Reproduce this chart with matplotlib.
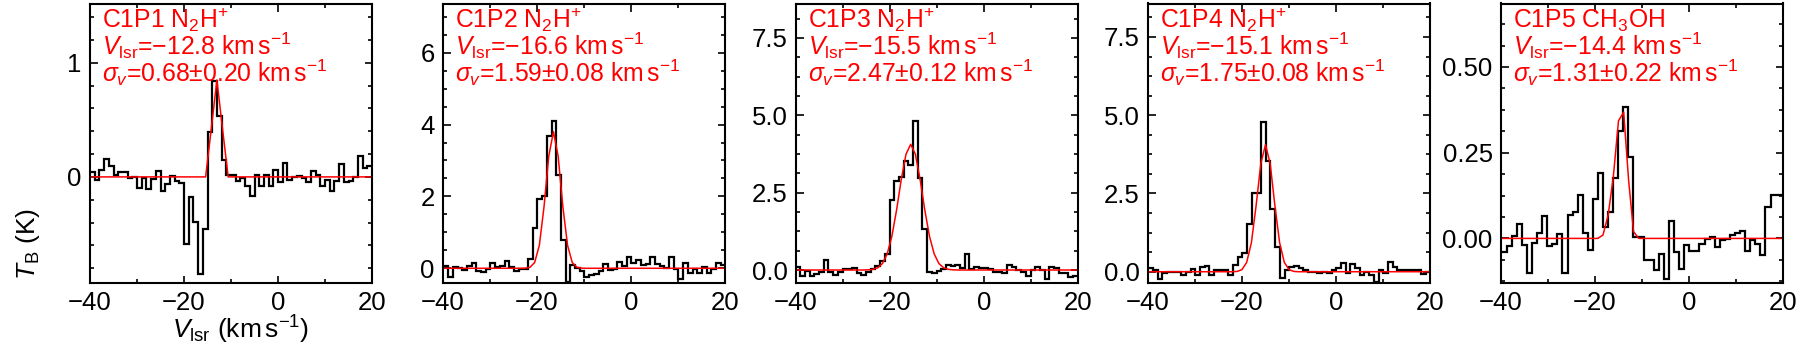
import numpy as np
import matplotlib
matplotlib.use("Agg")
import matplotlib.pyplot as plt
from matplotlib.ticker import MultipleLocator, FormatStrFormatter

plt.rcParams['font.family'] = ['Liberation Sans', 'DejaVu Sans']
plt.rcParams['mathtext.fontset'] = 'custom'
plt.rcParams['mathtext.rm'] = 'Liberation Sans'
plt.rcParams['mathtext.it'] = 'Liberation Sans:italic'
plt.rcParams['mathtext.bf'] = 'Liberation Sans:bold'

# ---------------- data ----------------
# channel grids: first channel centre and channel width (km/s)
p1_v0, p1_dv = -39.5, 1.0
p2_v0, p2_dv = -39.4, 1.0
p3_v0, p3_dv = -39.6, 1.0
p4_v0, p4_dv = -39.45, 1.0
p5_v0, p5_dv = -40.43, 1.08

p1_T = [0.044, -0.023, 0.058, 0.155, 0.094, 0.015, 0.044, 0.044, -0.006, 0.0,
        -0.096, -0.006, -0.11, -0.015, 0.053, -0.126, -0.058, 0.009, -0.038, -0.05,
        -0.585, -0.18, -0.395, -0.85, -0.46,
        0.395, 0.84, 0.53, 0.146,
        0.015, 0.015, -0.038, -0.006, -0.082, -0.17, 0.015, -0.082, 0.015, -0.082,
        0.058, -0.044, 0.123, -0.03, 0.0, 0.006, -0.006, -0.044, 0.053, 0.015,
        -0.082, -0.023, -0.126, -0.035, 0.117, -0.044, -0.035, 0.0, 0.184, 0.082, 0.094]

p2_T = [0.05, -0.23, 0.03, 0.0, -0.06, 0.05, 0.14, -0.07, -0.1, -0.03,
        0.16, 0.03, 0.05, 0.19, 0.03, -0.08, -0.03, -0.02, 0.26, 1.11,
        1.94, 2.02, 3.69, 4.09, 2.61, 0.79, -0.37, 0.09, 0.0, -0.07,
        -0.23, -0.2, -0.16, -0.07, 0.12, -0.05, -0.03, 0.17, 0.05, 0.31,
        0.14, 0.23, 0.09, 0.12, 0.32, 0.12, 0.05, 0.0, 0.32, -0.03,
        -0.3, 0.14, -0.14, -0.03, -0.14, 0.03, -0.14, -0.03, 0.16, 0.09]

p3_T = [0.11, -0.19, -0.02, -0.18, -0.13, -0.08, 0.31, -0.05, -0.16, -0.05,
        0.03, 0.02, 0.06, -0.11, -0.16, -0.05, 0.02, 0.13, 0.30, 0.52,
        2.26, 2.86, 3.0, 3.53, 3.4, 4.8, 2.96, 1.31, -0.08, -0.11,
        -0.03, 0.04, 0.16, 0.13, 0.15, 0.05, 0.52, 0.02, 0.09, 0.05,
        0.05, 0.03, -0.05, -0.05, -0.09, 0.16, 0.09, 0.0, -0.05, -0.18,
        0.0, 0.11, 0.0, -0.29, 0.11, 0.05, -0.11, -0.09, -0.22, -0.18]

p4_T = [0.11, 0.05, -0.22, -0.05, -0.02, -0.02, -0.02, -0.1, 0.0, 0.09,
        -0.1, 0.16, 0.19, -0.1, 0.07, 0.07, 0.07, -0.1, 0.21, 0.48,
        0.59, 1.54, 2.52, 2.52, 4.77, 3.54, 2.02, 0.78, -0.21, 0.07,
        0.16, 0.18, 0.11, 0.07, 0.0, 0.0, -0.05, -0.02, -0.05, 0.07,
        0.11, 0.29, -0.05, 0.24, 0.11, -0.09, 0.0, -0.09, -0.32, 0.07,
        -0.05, 0.32, 0.14, 0.05, 0.05, 0.07, 0.07, 0.05, -0.07, 0.0]

p5_T = [-0.039, -0.039, -0.021, 0.007, 0.041, -0.018, -0.101, -0.013, 0.017, 0.066,
        -0.021, -0.017, 0.012, -0.101, 0.069, 0.077, 0.128, 0.017, -0.033, 0.114,
        0.191, 0.033, 0.077, 0.177,
        0.314, 0.382, 0.236, 0.005, 0.005, -0.063, -0.063, -0.092, -0.046, -0.119,
        0.052, -0.039, -0.088, -0.02, -0.036, -0.036, -0.017, -0.003, 0.003, -0.024,
        -0.005, -0.003, 0.01, 0.017, 0.022, -0.036, -0.005, -0.015, -0.049, 0.092,
        0.126, 0.126, 0.126]

# Gaussian fit curves (red)
p1_fit_v = [-40, -15.4, -14.2, -13.0, -11.8, -10.6, 20]
p1_fit_T = [0.0, 0.0, 0.42, 0.85, 0.42, 0.0, 0.0]

p2_fit_v = [-40, -23.5, -22.5, -21.5, -20.5, -19.5, -18.5, -17.5, -16.5,
            -15.5, -14.5, -13.5, -12.5, -11.5, -10.5, -9.5, 20]
p2_fit_T = [0.0, 0.0, 0.003, 0.027, 0.16, 0.64, 1.72, 3.12, 3.8,
            3.12, 1.72, 0.64, 0.16, 0.027, 0.003, 0.0, 0.0]

p3_fit_v = [-40, -25.6, -24.6, -23.6, -22.6, -21.6, -20.6, -19.6, -18.6, -17.6, -16.6, -15.6,
            -14.6, -13.6, -12.6, -11.6, -10.6, -9.6, -8.6, -7.6, -6.6, -5.6, 20]
p3_fit_T = [0.0, 0.0, 0.005, 0.022, 0.073, 0.21, 0.52, 1.09, 1.94, 2.93, 3.74, 4.06,
            3.74, 2.93, 1.94, 1.09, 0.52, 0.21, 0.073, 0.022, 0.005, 0.0, 0.0]

p4_fit_v = [-40, -22.0, -21.0, -20.0, -19.0, -18.0, -17.0, -16.0, -15.0,
            -14.0, -13.0, -12.0, -11.0, -10.0, -9.0, -8.0, 20]
p4_fit_T = [0.0, 0.0, 0.011, 0.069, 0.30, 0.93, 2.11, 3.45, 4.06,
            3.45, 2.11, 0.93, 0.30, 0.069, 0.011, 0.0, 0.0]

p5_fit_v = [-40, -19.4, -18.3, -17.2, -16.1, -15.0, -13.9, -12.85, -11.8, -10.7, 20]
p5_fit_T = [0.0, 0.0, 0.01, 0.068, 0.18, 0.343, 0.368, 0.17, 0.02, 0.0, 0.0]

names = ["C1P1 N$_2$H$^{+}$", "C1P2 N$_2$H$^{+}$", "C1P3 N$_2$H$^{+}$",
         "C1P4 N$_2$H$^{+}$", "C1P5 CH$_3$OH"]
vlsr_txt = ["\u221212.8", "\u221216.6", "\u221215.5", "\u221215.1", "\u221214.4"]
sigma_txt = ["0.68\u00b10.20", "1.59\u00b10.08", "2.47\u00b10.12", "1.75\u00b10.08", "1.31\u00b10.22"]

ylims = [(-0.93, 1.52), (-0.41, 7.37), (-0.42, 8.61), (-0.36, 8.57), (-0.13, 0.685)]
ymajor = [1, 2, 2.5, 2.5, 0.25]
yminor = [0.2, 0.5, 0.625, 0.625, 0.0625]
yfmt = ["%d", "%d", "%.1f", "%.1f", "%.2f"]

spectra = [(p1_v0, p1_dv, p1_T), (p2_v0, p2_dv, p2_T), (p3_v0, p3_dv, p3_T),
           (p4_v0, p4_dv, p4_T), (p5_v0, p5_dv, p5_T)]
fits = [(p1_fit_v, p1_fit_T), (p2_fit_v, p2_fit_T), (p3_fit_v, p3_fit_T),
        (p4_fit_v, p4_fit_T), (p5_fit_v, p5_fit_T)]

# ---------------- figure ----------------
W, H = 1800, 345
fig = plt.figure(figsize=(W / 100, H / 100), dpi=100)
lefts = [90, 443, 796, 1148, 1501]
ax_w, ax_top, ax_bot = 282, 3.5, 283
red_fs = 17.8

for i in range(5):
    ax = fig.add_axes([lefts[i] / W, (H - ax_bot) / H, ax_w / W, (ax_bot - ax_top) / H])
    v0, dv, T = spectra[i]
    T = np.array(T)
    centres = v0 + dv * np.arange(len(T))
    edges = np.append(centres - dv / 2, centres[-1] + dv / 2)
    ax.stairs(T, edges, baseline=None, color='black', lw=1.6)
    fv, fT = fits[i]
    ax.plot(fv, fT, color='red', lw=1.1)

    ax.set_xlim(-40, 20)
    ax.set_ylim(*ylims[i])
    ax.xaxis.set_major_locator(MultipleLocator(20))
    ax.xaxis.set_minor_locator(MultipleLocator(10))
    ax.yaxis.set_major_locator(MultipleLocator(ymajor[i]))
    ax.yaxis.set_minor_locator(MultipleLocator(yminor[i]))
    ax.yaxis.set_major_formatter(FormatStrFormatter(yfmt[i]))
    ax.tick_params(which='both', direction='in', top=True, right=True,
                   labelsize=18.5, width=1.2, pad=6)
    ax.tick_params(which='major', length=5.4)
    ax.tick_params(which='minor', length=3.1)
    for s in ax.spines.values():
        s.set_linewidth(1.5)

    tx = 12 / ax_w
    hh = ax_bot - ax_top
    ax.text(tx, 1 - 24.5 / hh, names[i], transform=ax.transAxes, color='red',
            fontsize=red_fs, va='baseline', ha='left')
    ax.text(tx, 1 - 51.5 / hh, r"$V_\mathrm{lsr}$=" + vlsr_txt[i] + r" km$\,$s$^{-1}$",
            transform=ax.transAxes, color='red', fontsize=red_fs, va='baseline', ha='left')
    ax.text(tx, 1 - 78.5 / hh, r"$\sigma_v$=" + sigma_txt[i] + r" km$\,$s$^{-1}$",
            transform=ax.transAxes, color='red', fontsize=red_fs, va='baseline', ha='left')

fig.text(27.5 / W, (H - 244) / H, r"$T_\mathrm{B}$ (K)", rotation=90,
         ha='center', va='center', fontsize=19)
fig.text(241 / W, (H - 330) / H, r"$V_\mathrm{lsr}$ (km$\,$s$^{-1}$)",
         ha='center', va='center', fontsize=19)

fig.savefig("out.png", dpi=100)
